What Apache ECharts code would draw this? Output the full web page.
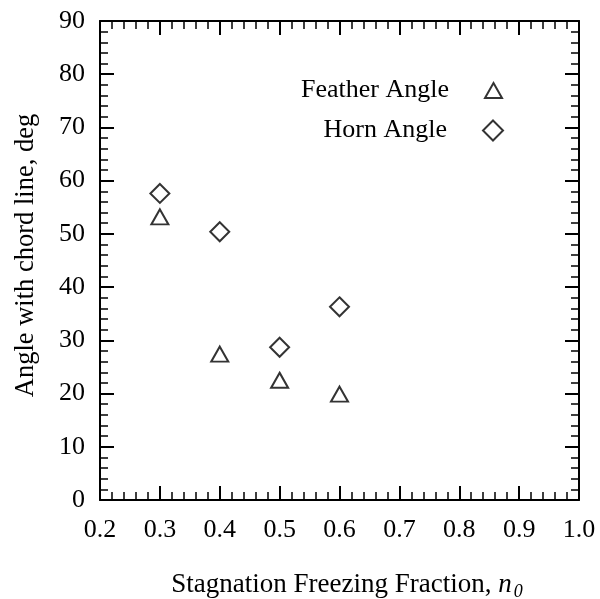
<!DOCTYPE html>
<html>
<head>
<meta charset="utf-8">
<script src="https://cdn.jsdelivr.net/npm/echarts@6/dist/echarts.min.js"></script>
<style>
  html, body { margin: 0; padding: 0; background: #fff; }
  #chart { width: 600px; height: 599px; }
</style>
</head>
<body>
<div id="chart"></div>
<script>
// data
const fraction = [0.3, 0.4, 0.5, 0.6];
const featherAngle = [53.2, 27.4, 22.5, 19.9];
const hornAngle = [57.6, 50.4, 28.7, 36.3];

const FONT = "Liberation Serif";
const INK = "#000";

function pairs(xs, ys) {
  return xs.map((x, i) => [x, ys[i]]);
}

function frameAxis(extra) {
  // shared look for all four sides of the box
  return Object.assign({
    type: "value",
    axisLine: { show: true, onZero: false, lineStyle: { color: INK, width: 2 } },
    axisTick: { show: true, inside: true, length: 14, lineStyle: { color: INK, width: 2 } },
    minorTick: { show: true, splitNumber: 5, length: 8, lineStyle: { color: INK, width: 1.5 } },
    splitLine: { show: false },
    axisLabel: { show: false }
  }, extra);
}

function legendBox(name, top, right, w, h) {
  return {
    orient: "vertical",
    align: "right",
    right: right,
    top: top,
    padding: 0,
    itemWidth: w,
    itemHeight: h,
    textStyle: {
      fontFamily: FONT,
      fontSize: 26,
      color: INK,
      lineHeight: 27,
      padding: [0, 31, 0, 0]
    },
    data: [name]
  };
}

const chart = echarts.init(document.getElementById("chart"));

const option = {
  backgroundColor: "#fff",
  animation: false,
  textStyle: { fontFamily: FONT, color: INK },
  grid: { left: 100, right: 21, top: 21, bottom: 99, containLabel: false, outerBoundsMode: "none" },
  legend: [
    legendBox("Feather Angle", 77, 97, 17, 15),
    legendBox("Horn Angle", 117, 96, 20, 20)
  ],
  xAxis: [
    frameAxis({
      position: "bottom",
      min: 0.2,
      max: 1.0,
      interval: 0.1,
      axisLabel: {
        show: true,
        margin: 17,
        fontFamily: FONT,
        fontSize: 26,
        color: INK,
        formatter: (v) => v.toFixed(1)
      },
      name: "Stagnation Freezing Fraction, {i|n}{s|0}",
      nameLocation: "middle",
      nameGap: 69,
      nameTextStyle: {
        fontFamily: FONT,
        fontSize: 27,
        color: INK,
        padding: [0, 0, 0, 15],
        rich: {
          i: { fontFamily: FONT, fontSize: 27, fontStyle: "italic", color: INK },
          s: { fontFamily: FONT, fontSize: 18, fontStyle: "italic", color: INK, padding: [14, 0, 0, 2] }
        }
      }
    }),
    frameAxis({ position: "top", min: 0.2, max: 1.0, interval: 0.1 })
  ],
  yAxis: [
    frameAxis({
      position: "left",
      min: 0,
      max: 90,
      interval: 10,
      axisLabel: {
        show: true,
        margin: 15,
        fontFamily: FONT,
        fontSize: 26,
        color: INK
      },
      name: "Angle with chord line, deg",
      nameLocation: "middle",
      nameGap: 60,
      nameTextStyle: {
        fontFamily: FONT,
        fontSize: 26.5,
        color: INK,
        padding: [0, 0, 0, 10]
      }
    }),
    frameAxis({ position: "right", min: 0, max: 90, interval: 10 })
  ],
  series: [
    {
      name: "Feather Angle",
      type: "scatter",
      xAxisIndex: 0,
      yAxisIndex: 0,
      symbol: "triangle",
      symbolSize: [17, 15],
      itemStyle: { color: "rgba(255,255,255,0)", borderColor: INK, borderWidth: 2 },
      data: pairs(fraction, featherAngle)
    },
    {
      name: "Horn Angle",
      type: "scatter",
      xAxisIndex: 0,
      yAxisIndex: 0,
      symbol: "diamond",
      symbolSize: [19, 19],
      itemStyle: { color: "rgba(255,255,255,0)", borderColor: INK, borderWidth: 2 },
      data: pairs(fraction, hornAngle)
    }
  ]
};

chart.setOption(option);
</script>
</body>
</html>
